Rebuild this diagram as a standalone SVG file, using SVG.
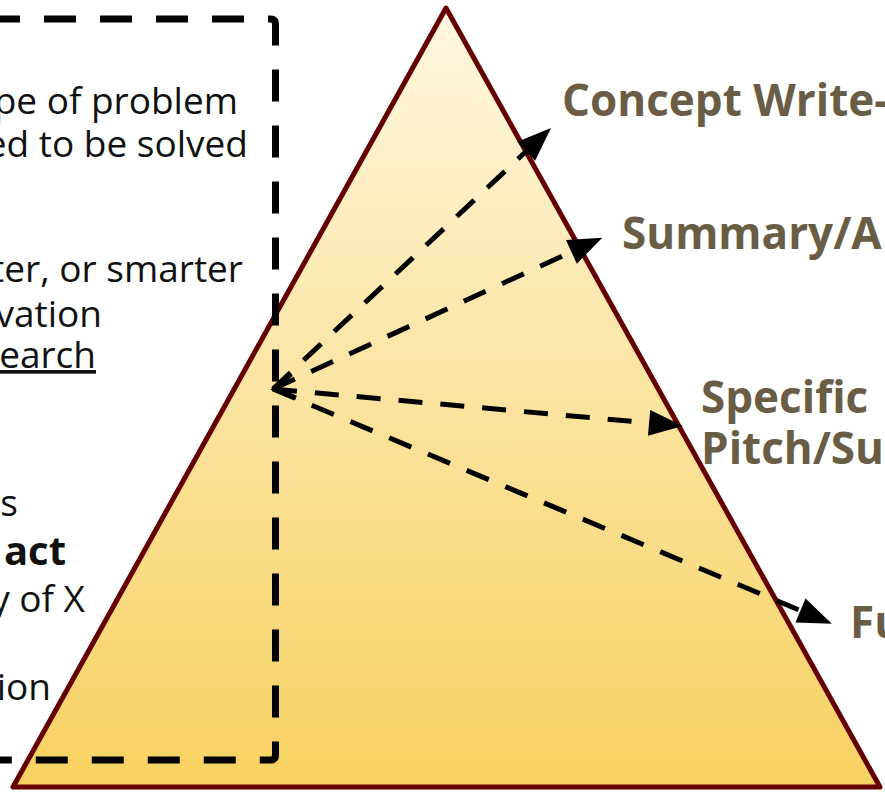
<svg xmlns="http://www.w3.org/2000/svg" width="885" height="795" viewBox="0 0 885 795">
  <style>
    .body { font-family: "Open Sans", "Noto Sans", "Liberation Sans", sans-serif; font-size: 37px; fill: #111111; }
    .bold { font-weight: bold; }
    .label { font-family: "Open Sans", "Noto Sans", "Liberation Sans", sans-serif; font-size: 44px; font-weight: bold; fill: #6a5d45; }
    .conn { fill: none; stroke: #000000; stroke-width: 5; stroke-dasharray: 24 18; marker-end: url(#head); }
  </style>
  <defs>
    <linearGradient id="tri-grad" x1="0" y1="0" x2="0" y2="1">
      <stop offset="0" stop-color="#fff7e1"/>
      <stop offset="1" stop-color="#f7d160"/>
    </linearGradient>
    <marker id="head" markerUnits="userSpaceOnUse" viewBox="-2 -16 38 32" markerWidth="38" markerHeight="32" refX="0" refY="0" orient="auto">
      <path d="M0,-13 L34,0 L0,13 Z" fill="#000000"/>
    </marker>
  </defs>

  <g id="pyramid">
    <polygon points="446,8 13,787 880,787" fill="url(#tri-grad)" stroke="#650000" stroke-width="5" stroke-linejoin="round"/>
  </g>

  <g id="left-box">
    <path d="M -20,19 H 270.5 Q 275.5,19 275.5,24 V 755 Q 275.5,760 270.5,760 H -20" fill="none" stroke="#000000" stroke-width="7" stroke-dasharray="32 24" stroke-dashoffset="48"/>
    <text class="body" x="238" y="114" text-anchor="end">pe of problem</text>
    <text class="body" x="248" y="157" text-anchor="end">ed to be solved</text>
    <text class="body" x="243" y="282" text-anchor="end">ter, or smarter</text>
    <text class="body" x="102" y="327" text-anchor="end">vation</text>
    <text class="body" x="96" y="368" text-anchor="end" text-decoration="underline">earch</text>
    <text class="body" x="18" y="516" text-anchor="end">s</text>
    <text class="body bold" x="66" y="565" text-anchor="end" style="font-size:40px">act</text>
    <text class="body" x="85" y="612" text-anchor="end">y of X</text>
    <text class="body" x="51" y="700" text-anchor="end">ion</text>
  </g>

  <g id="label-concept">
    <text class="label" x="562" y="116">Concept Write-</text>
  </g>
  <g id="label-summary">
    <text class="label" x="622" y="249">Summary/A</text>
  </g>
  <g id="label-specific">
    <text class="label" x="701" y="413">Specific</text>
    <text class="label" x="701" y="464">Pitch/Su</text>
  </g>
  <g id="label-fu">
    <text class="label" x="850" y="638">Fu</text>
  </g>

  <g id="connectors">
    <line class="conn" x1="273" y1="389" x2="526.2" y2="151.3"/>
    <line class="conn" x1="273" y1="389" x2="571.4" y2="251.9"/>
    <line class="conn" x1="273" y1="389" x2="649.1" y2="422.9"/>
    <line class="conn" x1="273" y1="389" x2="800.5" y2="610.6"/>
    <polyline points="291,374 275,389 296,398" fill="none" stroke="#000000" stroke-width="5" stroke-linejoin="miter"/>
  </g>
</svg>
